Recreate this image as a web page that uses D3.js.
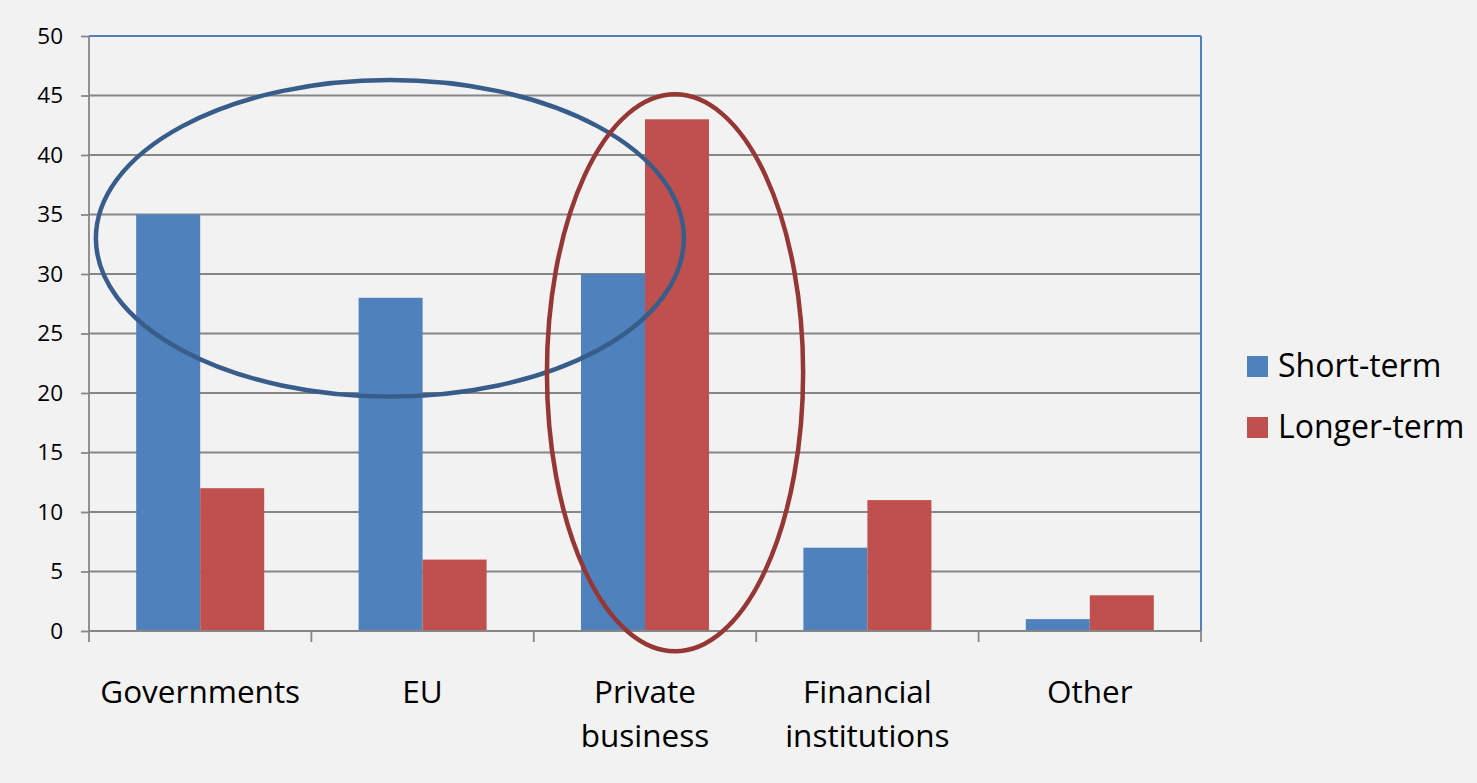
<!DOCTYPE html>
<html>
<head>
<meta charset="utf-8">
<script src="https://cdn.jsdelivr.net/npm/d3@7"></script>
<style>
  body { margin: 0; background: #f2f2f2; }
  svg { display: block; }
</style>
</head>
<body>
<div id="chart"></div>
<script>
var categories = ["Governments", "EU", "Private business", "Financial institutions", "Other"];
var labelLines = [["Governments"], ["EU"], ["Private", "business"], ["Financial", "institutions"], ["Other"]];
var series = ["Short-term", "Longer-term"];
var shortTerm = [35, 28, 30, 7, 1];
var longerTerm = [12, 6, 43, 11, 3];
var yTicks = [0, 5, 10, 15, 20, 25, 30, 35, 40, 45, 50];
var colors = ["#4f81bd", "#c0504d"];
// hand-drawn rings: centre and radius in category units (x) and value units (y)
var rings = [
  {cx: 1.353, rx: 1.322, cy: 33.0, ry: 13.3, color: "#385d8a"},
  {cx: 2.635, rx: 0.576, cy: 21.7, ry: 23.4, color: "#953735"}
];

var width = 1477, height = 783;
var plotL = 89, plotR = 1201, plotT = 36, plotB = 631;

var svg = d3.select("#chart").append("svg")
    .attr("width", width)
    .attr("height", height);

svg.append("rect").attr("width", width).attr("height", height).attr("fill", "#f2f2f2");

var x0 = d3.scaleBand().domain(categories).range([plotL, plotR]).padding(0);
var x1 = d3.scaleBand().domain(series).range([0, x0.bandwidth()]).paddingInner(0).paddingOuter(0.7375);
var xu = d3.scaleLinear().domain([0, 5]).range([plotL, plotR]);
var y = d3.scaleLinear().domain([0, 50]).range([plotB, plotT]);

var gridColor = "#868686";

// grid lines
svg.append("g").selectAll("line").data(yTicks.slice(0, -1)).enter().append("line")
    .attr("x1", plotL).attr("x2", plotR)
    .attr("y1", function(d) { return y(d); })
    .attr("y2", function(d) { return y(d); })
    .attr("stroke", gridColor).attr("stroke-width", 1.8);

// bars
var rows = categories.map(function(c, i) { return {cat: c, vals: [shortTerm[i], longerTerm[i]]}; });
var groups = svg.append("g").selectAll("g").data(rows).enter().append("g")
    .attr("transform", function(d) { return "translate(" + x0(d.cat) + ",0)"; });
groups.selectAll("rect").data(function(d) { return d.vals; }).enter().append("rect")
    .attr("x", function(d, i) { return x1(series[i]); })
    .attr("width", x1.bandwidth())
    .attr("y", function(d) { return y(d); })
    .attr("height", function(d) { return plotB - y(d); })
    .attr("fill", function(d, i) { return colors[i]; });

// plot border: top and right in blue
svg.append("line").attr("x1", plotL).attr("x2", plotR).attr("y1", plotT).attr("y2", plotT)
    .attr("stroke", "#4f81bd").attr("stroke-width", 2);
svg.append("line").attr("x1", plotR).attr("x2", plotR).attr("y1", plotT).attr("y2", plotB)
    .attr("stroke", "#4f81bd").attr("stroke-width", 2);

// y axis
var yAxis = svg.append("g").attr("transform", "translate(" + plotL + ",0)")
    .call(d3.axisLeft(y).tickValues(yTicks).tickSize(8).tickPadding(18).tickSizeOuter(0));
yAxis.select(".domain").attr("stroke", gridColor).attr("stroke-width", 1.8)
    .attr("d", "M0," + plotT + "V" + (plotB + 11));
yAxis.selectAll(".tick line").attr("stroke", gridColor).attr("stroke-width", 1.8);
yAxis.selectAll(".tick text").attr("font-family", "Open Sans").attr("font-size", 22.5).attr("fill", "#000");

// x axis
var xAxisG = svg.append("g");
xAxisG.append("line").attr("x1", plotL).attr("x2", plotR).attr("y1", plotB).attr("y2", plotB)
    .attr("stroke", gridColor).attr("stroke-width", 1.8);
xAxisG.selectAll("line.tk").data(d3.range(1, 6)).enter().append("line")
    .attr("class", "tk")
    .attr("x1", function(d) { return xu(d); }).attr("x2", function(d) { return xu(d); })
    .attr("y1", plotB).attr("y2", plotB + 11)
    .attr("stroke", gridColor).attr("stroke-width", 1.8);
var labels = xAxisG.selectAll("text").data(categories).enter().append("text")
    .attr("x", function(d) { return x0(d) + x0.bandwidth() / 2; })
    .attr("y", 703)
    .attr("text-anchor", "middle")
    .attr("font-family", "Open Sans").attr("font-size", 31.5).attr("fill", "#000");
labels.each(function(d, i) {
  var t = d3.select(this);
  labelLines[i].forEach(function(line, j) {
    t.append("tspan").attr("x", x0(d) + x0.bandwidth() / 2).attr("dy", j === 0 ? 0 : 44).text(line);
  });
});

// rings
svg.append("g").selectAll("ellipse").data(rings).enter().append("ellipse")
    .attr("cx", function(d) { return xu(d.cx); })
    .attr("rx", function(d) { return xu(d.rx) - xu(0); })
    .attr("cy", function(d) { return y(d.cy); })
    .attr("ry", function(d) { return y(0) - y(d.ry); })
    .attr("fill", "none")
    .attr("stroke", function(d) { return d.color; })
    .attr("stroke-width", 4.5);

// legend
var legend = svg.append("g").selectAll("g").data(series).enter().append("g")
    .attr("transform", function(d, i) { return "translate(1247," + (356 + i * 61) + ")"; });
legend.append("rect").attr("width", 21).attr("height", 21)
    .attr("fill", function(d, i) { return colors[i]; });
legend.append("text").attr("x", 31).attr("y", 21)
    .attr("font-family", "Open Sans").attr("font-size", 32).attr("fill", "#000")
    .text(function(d) { return d; });
</script>
</body>
</html>
